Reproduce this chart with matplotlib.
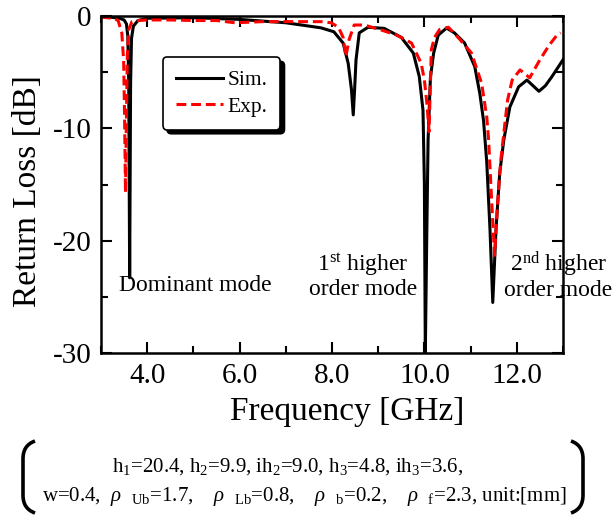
import matplotlib
matplotlib.use('Agg')
import matplotlib.pyplot as plt
from matplotlib.path import Path
from matplotlib.patches import PathPatch
from matplotlib.ticker import MultipleLocator, FormatStrFormatter

plt.rcParams['font.family'] = ['Liberation Serif', 'DejaVu Serif']
plt.rcParams['mathtext.fontset'] = 'custom'
plt.rcParams['mathtext.rm'] = 'Liberation Serif'
plt.rcParams['mathtext.it'] = 'Liberation Serif:italic'
plt.rcParams['axes.unicode_minus'] = False

# simulated return loss
freq_sim = [3.0, 3.2, 3.4, 3.5, 3.55, 3.58, 3.60, 3.62, 3.64, 3.66, 3.7, 3.8, 4.0, 5.0,
            6.0, 7.0, 7.76, 8.04, 8.24, 8.35, 8.42, 8.46, 8.49, 8.52, 8.59, 8.78, 9.13,
            9.5, 9.76, 9.89, 9.97, 10.0, 10.02, 10.05, 10.08, 10.13, 10.2, 10.3, 10.48,
            10.65, 10.87, 11.09, 11.2, 11.28, 11.35, 11.42, 11.48, 11.55, 11.63, 11.72,
            11.85, 12.04, 12.22, 12.35, 12.48, 12.62, 12.76, 13.0]
rl_sim = [-0.05, -0.1, -0.2, -0.35, -0.7, -1.8, -6.0, -23.3, -6.0, -2.0, -0.9, -0.4,
          -0.2, -0.15, -0.3, -0.6, -1.05, -1.4, -2.4, -4.2, -6.5, -8.8, -6.5, -3.9,
          -1.5, -1.0, -1.1, -1.9, -3.3, -5.4, -8.4, -15.0, -30.0, -20.0, -11.0, -5.5,
          -3.3, -1.7, -1.07, -1.5, -2.4, -4.5, -6.9, -9.3, -13.0, -19.0, -25.5, -19.0,
          -14.0, -11.0, -8.1, -6.3, -5.7, -6.2, -6.7, -6.2, -5.4, -3.9]

# measured return loss
freq_exp = [3.0, 3.26, 3.37, 3.45, 3.49, 3.51, 3.53, 3.55, 3.57, 3.6, 3.67, 3.8, 4.0,
            4.5, 5.0, 5.5, 5.9, 6.5, 7.0, 7.76, 7.98, 8.14, 8.24, 8.3, 8.37, 8.48, 8.7,
            9.07, 9.4, 9.72, 9.93, 10.0, 10.06, 10.1, 10.13, 10.15, 10.22, 10.33, 10.52,
            10.75, 11.02, 11.24, 11.35, 11.39, 11.45, 11.52, 11.58, 11.65, 11.72, 11.8,
            11.9, 12.07, 12.28, 12.5, 12.7, 12.87, 12.95]
rl_exp = [-0.1, -0.2, -0.4, -1.5, -4.0, -9.0, -15.7, -9.0, -3.5, -1.2, -0.5, -0.4,
          -0.35, -0.35, -0.4, -0.4, -0.6, -0.5, -0.5, -0.5, -0.6, -1.0, -1.9, -3.6,
          -2.1, -0.8, -0.8, -1.25, -1.7, -2.4, -4.2, -5.7, -8.0, -10.3, -6.0, -3.0,
          -1.9, -1.2, -1.0, -2.0, -3.3, -6.0, -9.0, -11.0, -16.0, -21.3, -17.0, -13.0,
          -10.4, -7.5, -5.7, -4.8, -5.5, -3.9, -2.6, -1.7, -1.5]

fig = plt.figure(figsize=(6.13, 5.17), dpi=100)
ax = fig.add_axes([0.1648, 0.3172, 0.7536, 0.6518])

ax.plot(freq_sim, rl_sim, color='black', lw=2.2, label='Sim.')
ax.plot(freq_exp, rl_exp, color='red', lw=2.2, ls=(0, (3.2, 1.6)), label='Exp.')

ax.set_xlim(3, 13)
ax.set_ylim(-30, 0)
ax.xaxis.set_major_locator(MultipleLocator(2))
ax.xaxis.set_minor_locator(MultipleLocator(1))
ax.yaxis.set_major_locator(MultipleLocator(10))
ax.yaxis.set_minor_locator(MultipleLocator(5))
ax.xaxis.set_major_formatter(FormatStrFormatter('%.1f'))
ax.tick_params(which='both', direction='in', top=True, right=True, width=1.5,
               labelsize=21, pad=7)
ax.tick_params(which='major', length=8)
ax.tick_params(which='minor', length=5)
for sp in ax.spines.values():
    sp.set_linewidth(1.8)

ax.set_xlabel('Frequency [GHz]', fontsize=24)
ax.set_ylabel('Return Loss [dB]', fontsize=24)
ax.xaxis.set_label_coords(0.532, -0.13)
ax.yaxis.set_label_coords(-0.125, 0.48)

leg = ax.legend(loc='upper left', bbox_to_anchor=(0.134, 0.878), borderaxespad=0,
                fontsize=15.5, fancybox=True,
                shadow={'color': 'black', 'alpha': 1, 'ox': 3, 'oy': -3},
                framealpha=1, edgecolor='black', handlelength=2.2,
                handletextpad=0.2, borderpad=0.6, labelspacing=0.3)
leg.get_frame().set_linewidth(1.2)

ax.text(5.05, -24.0, 'Dominant mode', fontsize=17, ha='center', va='center')
ax.text(8.67, -23.1, '1$^{\\mathrm{st}}$ higher\norder mode', fontsize=17,
        ha='center', va='center', linespacing=1.05)
ax.text(12.9, -23.1, '2$^{\\mathrm{nd}}$ higher\norder mode', fontsize=17,
        ha='center', va='center', linespacing=1.05, clip_on=False)

# parameter box below the plot
fig.text(0.469, 1 - 467 / 517, 'h$_1$=20.4, h$_2$=9.9, ih$_2$=9.0, h$_3$=4.8, ih$_3$=3.6,',
         fontsize=15, ha='center', va='center')
fig.text(0.496, 1 - 497 / 517,
         'w=0.4,  $\\rho$  $_{\\mathrm{Ub}}$=1.7,    $\\rho$  $_{\\mathrm{Lb}}$=0.8,    '
         '$\\rho$  $_{\\mathrm{b}}$=0.2,    $\\rho$  $_{\\mathrm{f}}$=2.3, unit:[mm]',
         fontsize=15, ha='center', va='center')


def bracket(x_end, x_mid):
    W, H = 613.0, 517.0
    pts = [(x_end, 441), (x_mid + (x_end - x_mid) * 0.3, 444), (x_mid, 450), (x_mid, 459),
           (x_mid, 495), (x_mid, 504), (x_mid + (x_end - x_mid) * 0.3, 510), (x_end, 513)]
    codes = [Path.MOVETO, Path.CURVE4, Path.CURVE4, Path.CURVE4,
             Path.LINETO, Path.CURVE4, Path.CURVE4, Path.CURVE4]
    verts = [(x / W, 1 - y / H) for x, y in pts]
    fig.add_artist(PathPatch(Path(verts, codes), fill=False, lw=2.6, color='black',
                             transform=fig.transFigure))


bracket(35, 23)
bracket(571, 583)

fig.savefig('out.png', dpi=100)
